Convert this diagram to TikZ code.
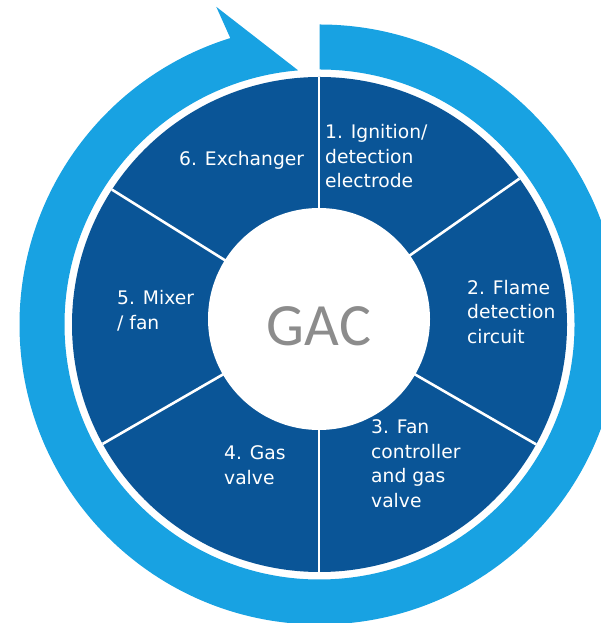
\documentclass[tikz,border=0pt]{standalone}
\usepackage{fontspec}
\usetikzlibrary{calc}
\setmainfont{DejaVu Sans}
\newfontfamily\gacfont{Carlito}
\definecolor{ringblue}{HTML}{18A2E2}
\definecolor{darkblue}{HTML}{0A5597}
\definecolor{gacgray}{HTML}{8C8C8C}
\tikzset{
  label/.style={anchor=base west, align=left, inner sep=0pt, text=white,
    font=\fontsize{18.7}{24.5}\selectfont},
  divider/.style={draw=white, line width=2.6pt}
}
\begin{document}
\begin{tikzpicture}[x=1pt,y=1pt]
\useasboundingbox (0,0) rectangle (601,623);
\clip (0,0) rectangle (601,623);
\coordinate (C) at (319.5,298.5);
\coordinate (IC) at (319,304);
% circular arrow
\fill[ringblue] ($(C)+(90:300)$) arc[start angle=90, end angle=-252.7, radius=300]
  -- ($(C)+(108:334)$) -- ($(C)+(94.8:255)$)
  arc[start angle=94.8, end angle=450, radius=255] -- cycle;
% dark disc
\fill[darkblue] (C) circle (247.5);
\begin{scope}
  \clip (C) circle (247.5);
  \foreach \a in {90,35,-30,-90,-150,148}
    \draw[divider] (IC) -- ++(\a:280);
\end{scope}
\fill[white] (IC) circle (111);
\node[text=gacgray, font=\gacfont\fontsize{60}{60}\selectfont, inner sep=0pt] (gac) at (319,297) {GAC};
\node[label] (n1) at (325,435) {1. Ignition/\\detection\\electrode};
\node[label] (n2) at (467,279.5) {2. Flame\\detection\\circuit};
\node[label] (n3) at (371,115.5) {3. Fan\\controller\\and gas\\valve};
\node[label] (n4) at (224,138.5) {4. Gas\\valve};
\node[label] (n5) at (117,293.5) {5. Mixer\\/ fan};
\node[label] (n6) at (179,457) {6. Exchanger};
\end{tikzpicture}
\end{document}
